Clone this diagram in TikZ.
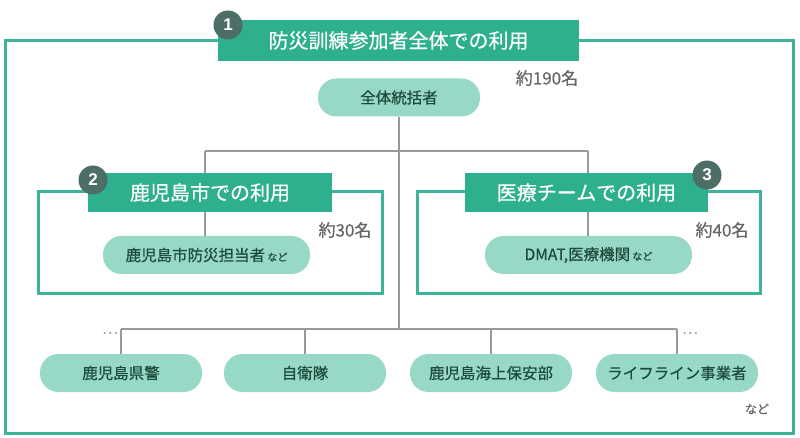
\documentclass[tikz,border=0pt]{standalone}
\usepackage{fontspec}
\setmainfont{Noto Sans CJK JP}[FakeBold=0.5]
\newfontfamily\numfont{Liberation Sans}
\newcommand\nadofont{\fontsize{10}{10}\selectfont}
\definecolor{banner}{HTML}{2EAF8E}
\definecolor{frame}{HTML}{3DB39A}
\definecolor{pill}{HTML}{97D8C6}
\definecolor{pilltext}{HTML}{1C4A3B}
\definecolor{badge}{HTML}{4D6E66}
\definecolor{conn}{HTML}{9A9A9A}
\definecolor{count}{HTML}{666666}
\tikzset{
  bannerbox/.style={fill=banner, inner sep=0pt, text=white, font=\fontsize{20}{20}\selectfont},
  pillbox/.style={fill=pill, inner sep=0pt, rounded corners=18.5pt, text=pilltext, font=\fontsize{15.5}{15.5}\selectfont, minimum height=38pt},
  badgecirc/.style={circle, fill=badge, inner sep=0pt, minimum size=29pt, text=white, font=\numfont\bfseries\fontsize{17}{17}\selectfont},
  groupframe/.style={draw=frame, line width=3pt},
  connline/.style={draw=conn, line width=1.4pt},
  counttext/.style={text=count, inner sep=0pt, font=\fontsize{17}{17}\selectfont},
  dotstext/.style={text=conn, inner sep=0pt, font=\fontsize{15}{15}\selectfont}
}
\begin{document}
\begin{tikzpicture}[x=1pt,y=-1pt]
\useasboundingbox (0,0) rectangle (800,438);
% frames
\draw[groupframe] (5,41) rectangle (793,433);
\draw[groupframe] (38,192) rectangle (382,293);
\draw[groupframe] (417,192) rectangle (760,293);
% pills
\node[pillbox, minimum width=162pt] (top) at (399,97.5) {全体統括者};
\node[pillbox, minimum width=207pt] (p2) at (206.5,255) {鹿児島市防災担当者{\nadofont\ など}};
\node[pillbox, minimum width=207pt] (p3) at (588.5,255) {DMAT,医療機関{\nadofont\ など}};
\node[pillbox, minimum width=162pt] (q1) at (121,373) {鹿児島県警};
\node[pillbox, minimum width=162pt] (q2) at (305,373) {自衛隊};
\node[pillbox, minimum width=162pt] (q3) at (491,373) {鹿児島海上保安部};
\node[pillbox, minimum width=162pt] (q4) at (677,373) {ライフライン事業者};
% banners
\node[bannerbox, minimum width=361pt, minimum height=41pt] (b1) at (398.5,40.5) {防災訓練参加者全体での利用};
\node[bannerbox, minimum width=244pt, minimum height=39pt] (b2) at (210,192.5) {鹿児島市での利用};
\node[bannerbox, minimum width=243pt, minimum height=39pt] (b3) at (586.5,192.5) {医療チームでの利用};
% badges
\node[badgecirc] (c1) at (228,25) {1};
\node[badgecirc] (c2) at (93,180) {2};
\node[badgecirc] (c3) at (707,175) {3};
% counts
\node[counttext] (n1) at (547,78) {約190名};
\node[counttext] (n2) at (345,230) {約30名};
\node[counttext] (n3) at (722,230) {約40名};
\node[text=count, inner sep=0pt, font=\fontsize{12}{12}\selectfont] (nado) at (757,409) {など};
% connectors
\coordinate (j2) at (205,151);
\coordinate (j3) at (588,151);
\coordinate (jb) at (399,329);
\coordinate (jl) at (121,329);
\coordinate (jr) at (677,329);
\draw[connline] (top.south) -- (jb);
\draw[connline] (j2) -- (j3);
\draw[connline] (j2) -- (j2 |- b2.north);
\draw[connline] (j3) -- (j3 |- b3.north);
\draw[connline] (j2 |- b2.south) -- (j2 |- p2.north);
\draw[connline] (j3 |- b3.south) -- (j3 |- p3.north);
\draw[connline] (jl) -- (jr);
\draw[connline] (jl) -- (q1.north);
\draw[connline] (q2.north |- jb) -- (q2.north);
\draw[connline] (q3.north |- jb) -- (q3.north);
\draw[connline] (jr) -- (q4.north);
\node[dotstext] (d1) at (110,333) {…};
\node[dotstext] (d2) at (690,333) {…};
\end{tikzpicture}
\end{document}
